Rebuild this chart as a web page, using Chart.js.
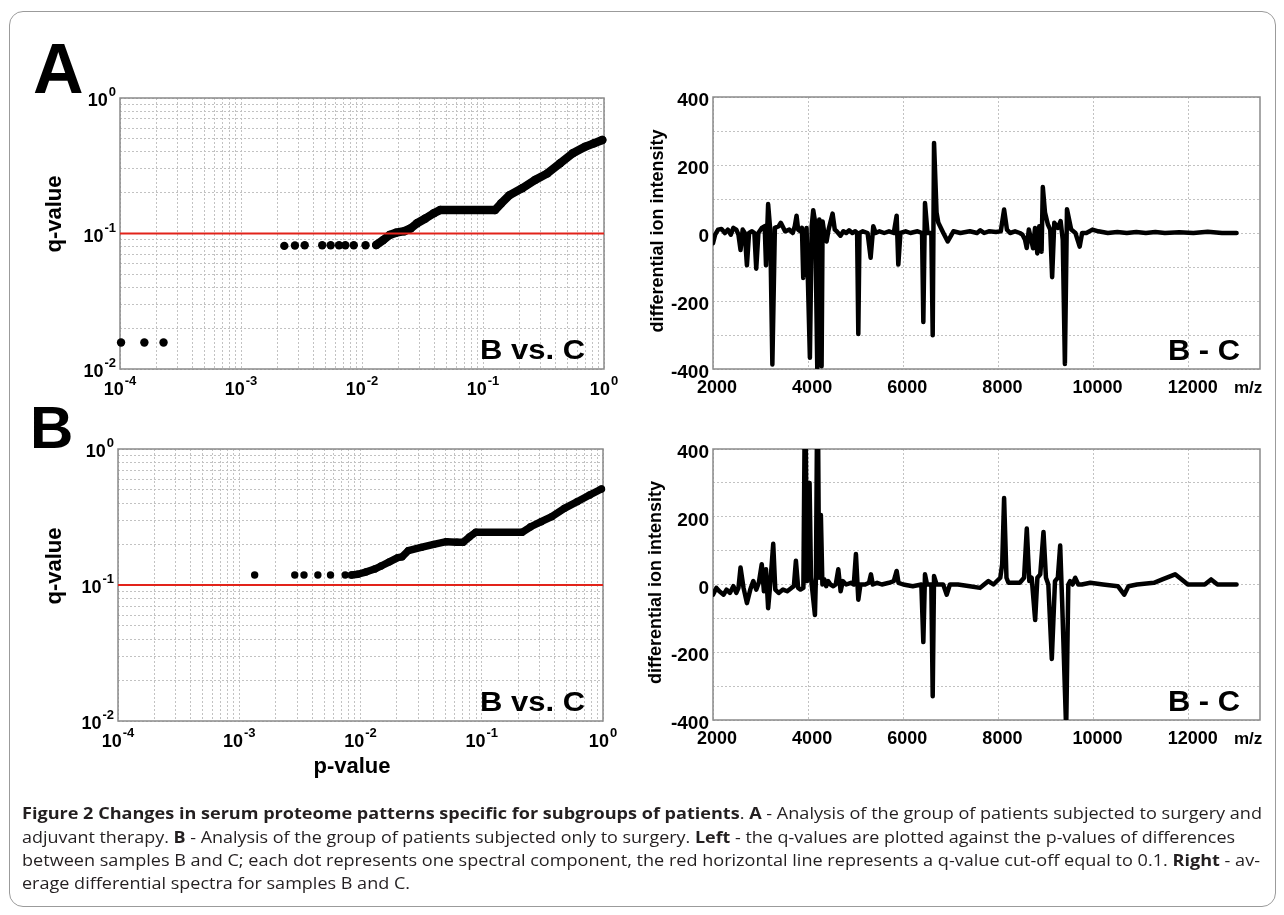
<!DOCTYPE html>
<html><head><meta charset="utf-8">
<script src="https://cdn.jsdelivr.net/npm/chart.js@4.4.1/dist/chart.umd.min.js"></script>
<style>
html,body{margin:0;padding:0;background:#fff;width:1284px;height:915px;overflow:hidden;}
#frame{position:absolute;left:9px;top:11px;width:1267px;height:896px;border:1.5px solid #9b9b9b;border-radius:14px;box-sizing:border-box;}
canvas{position:absolute;left:0;top:0;}
.cap{position:absolute;left:22px;white-space:nowrap;font-family:"Open Sans","Noto Sans",sans-serif;font-size:16.5px;line-height:1;color:#231f20;transform-origin:0 0;}
.cap b{font-weight:700;}
</style></head><body>
<div id="frame"></div>
<canvas id="cAL" width="1284" height="915"></canvas>
<canvas id="cAR" width="1284" height="915"></canvas>
<canvas id="cBL" width="1284" height="915"></canvas>
<canvas id="cBR" width="1284" height="915"></canvas>
<div class="cap" data-w="1240" style="top:805px"><b>Figure 2 Changes in serum proteome patterns specific for subgroups of patients</b>. <b>A</b> - Analysis of the group of patients subjected to surgery and</div>
<div class="cap" data-w="1213" style="top:829px">adjuvant therapy. <b>B</b> - Analysis of the group of patients subjected only to surgery. <b>Left</b> - the q-values are plotted against the p-values of differences</div>
<div class="cap" data-w="1238" style="top:852px">between samples B and C; each dot represents one spectral component, the red horizontal line represents a q-value cut-off equal to 0.1. <b>Right</b> - av-</div>
<div class="cap" data-w="388" style="top:875px">erage differential spectra for samples B and C.</div>
<script>
// ---------- tick labels ----------
const pTickExponents = [-4, -3, -2, -1, 0];
const qTickExponents = [-2, -1, 0];
const mzTicks = [2000, 4000, 6000, 8000, 10000, 12000];
const intensityTicks = [-400, -200, 0, 200, 400];
const intensityGrid = [-400, -300, -200, -100, 0, 100, 200, 300, 400];
const qCutoff = 0.1;
const cutoffP = [1e-4, 1];

// ---------- Panel A, left: q vs p ----------
const pIsoA = [1.02e-4, 1.59e-4, 2.29e-4, 2.28e-3, 2.79e-3, 3.36e-3, 4.69e-3, 5.51e-3, 6.46e-3, 7.28e-3, 8.55e-3, 1.07e-2];
const qIsoA = [0.0157, 0.0157, 0.0157, 0.081, 0.0815, 0.082, 0.082, 0.082, 0.082, 0.082, 0.082, 0.082];
const pRunA = [1.31e-2, 1.50e-2, 1.69e-2, 1.91e-2, 2.24e-2, 2.52e-2, 2.85e-2, 3.34e-2, 3.92e-2, 4.43e-2, 0.1256, 0.1416, 0.166, 0.211, 0.269, 0.341, 0.434, 0.552, 0.703, 0.825, 0.968];
const qRunA = [0.0822, 0.0896, 0.0975, 0.1014, 0.104, 0.109, 0.119, 0.129, 0.141, 0.149, 0.149, 0.167, 0.192, 0.216, 0.248, 0.278, 0.33, 0.391, 0.438, 0.463, 0.49];

// ---------- Panel B, left: q vs p ----------
const pIsoB = [1.34e-3, 2.87e-3, 3.42e-3, 4.45e-3, 5.66e-3, 7.48e-3];
const qIsoB = [0.1185, 0.1185, 0.1185, 0.1185, 0.1185, 0.1185];
const pRunB = [8.43e-3, 9.5e-3, 1.12e-2, 1.31e-2, 1.48e-2, 1.73e-2, 2.03e-2, 2.2e-2, 2.48e-2, 3.16e-2, 4.02e-2, 5.1e-2, 6.24e-2, 7.03e-2, 7.93e-2, 8.94e-2, 0.215, 0.253, 0.309, 0.378, 0.48, 0.611, 0.776, 0.97];
const qRunB = [0.1185, 0.12, 0.125, 0.131, 0.138, 0.148, 0.159, 0.161, 0.179, 0.189, 0.199, 0.208, 0.206, 0.206, 0.226, 0.244, 0.244, 0.268, 0.292, 0.318, 0.366, 0.41, 0.459, 0.508];

// ---------- Panel A, right: differential spectrum ----------
const mzA = [2000,2045,2107,2178,2250,2312,2374,2428,2490,2535,2579,2624,2668,2713,2758,2820,2870,2909,2954,3025,3087,3114,3159,3203,3248,3301,3381,3426,3515,3604,3676,3720,3757,3790,3840,3870,3897,3967,4037,4075,4107,4150,4192,4235,4283,4304,4340,4388,4430,4514,4560,4600,4680,4740,4800,4860,4930,4990,5030,5055,5080,5150,5250,5314,5370,5420,5500,5600,5700,5800,5861,5896,5940,6050,6150,6300,6395,6422,6457,6510,6590,6619,6647,6700,6738,6843,6935,7054,7200,7400,7550,7620,7700,7800,7950,8050,8120,8180,8246,8350,8450,8507,8560,8596,8640,8729,8770,8818,8860,8908,8934,8980,9041,9090,9130,9175,9250,9308,9353,9398,9442,9531,9620,9709,9760,9850,9977,10100,10300,10500,10700,10900,11100,11300,11500,11800,12100,12400,12700,13007];
const intensityA = [-30,-5,10,12,0,10,-5,15,10,-5,-50,10,0,-95,0,5,0,-105,0,15,20,-95,85,10,-387,15,20,30,5,10,0,20,51,10,5,15,-132,15,-367,20,67,30,-397,40,-392,34,0,-25,10,57,10,5,-8,5,0,8,0,5,0,-297,0,5,0,-73,20,0,5,0,5,0,51,-93,0,5,0,5,0,-262,88,0,0,-301,265,60,30,0,-25,5,0,5,0,8,0,5,3,5,69,10,0,5,0,-5,-20,-44,10,-45,15,-60,20,-55,135,60,25,10,-130,30,15,35,-20,-385,70,10,0,-40,0,0,10,5,0,3,0,3,0,3,0,2,0,4,0,0];

// ---------- Panel B, right: differential spectrum ----------
const mzB = [2000,2071,2134,2223,2285,2356,2428,2490,2535,2579,2642,2713,2784,2847,2909,2963,3025,3070,3114,3159,3203,3266,3310,3381,3471,3560,3649,3700,3743,3790,3840,3900,3925,3950,3975,4030,4060,4143,4165,4185,4210,4230,4268,4300,4340,4380,4420,4470,4530,4580,4634,4683,4730,4800,4900,4960,5005,5055,5100,5200,5280,5321,5360,5450,5550,5700,5800,5861,5900,6000,6200,6380,6422,6457,6500,6590,6619,6647,6700,6840,6914,6980,7150,7400,7615,7700,7790,7896,8040,8080,8120,8170,8211,8450,8540,8597,8650,8700,8773,8820,8880,8948,9000,9050,9123,9190,9250,9299,9340,9425,9470,9509,9560,9614,9680,9754,9932,10200,10512,10645,10734,10913,11270,11448,11715,11893,11982,12339,12472,12606,13007];
const intensityB = [-30,-10,-20,-30,-15,-25,-5,-25,-10,50,-10,-55,-15,10,-15,5,60,-20,45,-70,0,120,-15,-25,-15,-20,-10,-5,70,-10,-15,-10,430,430,10,300,20,-90,30,430,430,20,205,0,15,-5,10,0,-5,0,45,-20,10,0,5,0,90,-45,0,0,5,30,0,5,0,5,10,40,5,0,-5,0,-170,30,0,0,-330,25,0,0,-30,0,0,-5,-10,0,10,0,20,60,255,20,5,5,20,165,10,20,-105,20,30,155,20,0,-220,10,20,115,-50,-430,0,10,0,20,0,0,5,0,-5,-30,-5,0,5,15,30,10,0,0,15,0,0];

// ---------- drawing helpers ----------
const FONT = '"Liberation Sans", Arial, Helvetica, sans-serif';
const BF = s => `bold ${s}px ${FONT}`;
const GRID = '#c2c2c2';

function gridFromExponents(exps) {
  const out = [];
  for (let i = 0; i < exps.length - 1; i++)
    for (let m = 1; m < 10; m++) out.push(m * Math.pow(10, exps[i]));
  out.push(Math.pow(10, exps[exps.length - 1]));
  return out;
}
function axis(type, min, max, gridVals) {
  return { type, min, max,
    afterBuildTicks: s => { s.ticks = gridVals.map(v => ({ value: v })); },
    ticks: { display: false },
    grid: { color: GRID, lineWidth: 1, drawTicks: false },
    border: { display: false, dash: [2, 2] } };
}
function supLabel(ctx, exp, x, y, align) {
  ctx.font = BF(18); const w1 = ctx.measureText('10').width;
  ctx.font = BF(13); const w2 = ctx.measureText(exp).width;
  const x0 = align === 'center' ? x - (w1 + w2 + 1) / 2 : x - (w1 + w2 + 1);
  ctx.textAlign = 'left'; ctx.textBaseline = 'alphabetic';
  ctx.font = BF(18); ctx.fillText('10', x0, y);
  ctx.font = BF(13); ctx.fillText(exp, x0 + w1 + 1, y - 10);
}
function fitText(ctx, text, x, y, width, font) {
  ctx.font = font; const w = ctx.measureText(text).width;
  ctx.save(); ctx.translate(x, y); ctx.scale(width / w, 1);
  ctx.textAlign = 'left'; ctx.fillText(text, 0, 0); ctx.restore();
}
function vText(ctx, text, x, y, font) {
  ctx.save(); ctx.translate(x, y); ctx.rotate(-Math.PI / 2);
  ctx.font = font; ctx.textAlign = 'center'; ctx.textBaseline = 'alphabetic';
  ctx.fillText(text, 0, 0); ctx.restore();
}
const pts = (xs, ys) => xs.map((x, i) => ({ x, y: ys[i] }));

function makeChart(id, area, scales, datasets, extras) {
  return new Chart(document.getElementById(id), {
    type: 'scatter',
    data: { datasets },
    options: {
      responsive: false, animation: false, events: [], devicePixelRatio: 1,
      layout: { padding: { left: area.L, top: area.T, right: 1284 - area.R, bottom: 915 - area.B } },
      plugins: { legend: { display: false }, tooltip: { enabled: false } },
      scales
    },
    plugins: [{
      id: 'frameAndText',
      beforeDatasetsDraw(c) {
        const a = c.chartArea, ctx = c.ctx;
        ctx.save(); ctx.strokeStyle = '#8a8a8a'; ctx.lineWidth = 1.5;
        ctx.strokeRect(a.left, a.top, a.right - a.left, a.bottom - a.top); ctx.restore();
      },
      afterDraw(c) { const ctx = c.ctx; ctx.save(); ctx.fillStyle = '#000'; extras(c, ctx); ctx.restore(); }
    }]
  });
}

function leftChart(id, area, pIso, qIso, pRun, qRun, r, letter, letterPx, letterX, letterBase, qTitleY, showP) {
  const datasets = [
    { data: pts(cutoffP, [qCutoff, qCutoff]), showLine: true, borderColor: '#e2231a', borderWidth: 2, pointRadius: 0, clip: false },
    { data: pts(pIso, qIso), showLine: false, pointRadius: r, backgroundColor: '#000', borderWidth: 0, clip: false },
    { data: pts(pRun, qRun), showLine: true, borderColor: '#000', borderWidth: 2 * r, borderCapStyle: 'round', borderJoinStyle: 'round',
      pointRadius: r, backgroundColor: '#000', pointBorderWidth: 0, clip: false }
  ];
  const scales = {
    x: axis('logarithmic', 1e-4, 1, gridFromExponents(pTickExponents)),
    y: axis('logarithmic', 1e-2, 1, gridFromExponents(qTickExponents))
  };
  makeChart(id, area, scales, datasets, (c, ctx) => {
    const a = c.chartArea, xs = c.scales.x, ys = c.scales.y;
    pTickExponents.forEach(e => supLabel(ctx, String(e), xs.getPixelForValue(Math.pow(10, e)), a.bottom + 26, 'center'));
    qTickExponents.forEach(e => supLabel(ctx, String(e), a.left - 4, ys.getPixelForValue(Math.pow(10, e)) + 8, 'right'));
    vText(ctx, 'q-value', 61, qTitleY, BF(22));
    if (showP) { ctx.font = BF(22); ctx.textAlign = 'center'; ctx.fillText('p-value', 352, 773); }
    fitText(ctx, 'B vs. C', 480, a.bottom - 10, 105, BF(28));
    ctx.font = BF(letterPx); ctx.textAlign = 'left'; ctx.fillText(letter, letterX, letterBase);
  });
}

function rightChart(id, area, mz, inten, titleX) {
  const datasets = [
    { data: pts(mz, inten), showLine: true, borderColor: '#000', borderWidth: 4.5, pointRadius: 0,
      borderJoinStyle: 'round', borderCapStyle: 'round', tension: 0 }
  ];
  const scales = {
    x: axis('linear', 2000, 13500, mzTicks),
    y: axis('linear', -400, 400, intensityGrid)
  };
  makeChart(id, area, scales, datasets, (c, ctx) => {
    const a = c.chartArea, xs = c.scales.x, ys = c.scales.y;
    ctx.font = BF(19); ctx.textAlign = 'right';
    intensityTicks.forEach(v => ctx.fillText(String(v), a.left - 4, ys.getPixelForValue(v) + 9));
    ctx.font = BF(18); ctx.textAlign = 'center';
    mzTicks.forEach(v => ctx.fillText(String(v), xs.getPixelForValue(v) + 4, a.bottom + 24));
    ctx.font = BF(17); ctx.textAlign = 'left'; ctx.fillText('m/z', 1234, a.bottom + 24);
    vText(ctx, 'differential ion intensity', titleX, (a.top + a.bottom) / 2 - 2, BF(18));
    fitText(ctx, 'B - C', 1168, a.bottom - 9, 72, BF(29));
  });
}

leftChart('cAL', { L: 120, T: 98, R: 604, B: 369 }, pIsoA, qIsoA, pRunA, qRunA, 4.2, 'A', 70, 33, 93, 214, false);
leftChart('cBL', { L: 118, T: 449, R: 603, B: 721 }, pIsoB, qIsoB, pRunB, qRunB, 3.7, 'B', 60, 30, 448, 566, true);
rightChart('cAR', { L: 713, T: 97, R: 1260, B: 369 }, mzA, intensityA, 663);
rightChart('cBR', { L: 713, T: 449, R: 1260, B: 720 }, mzB, intensityB, 661);

function fitCaption() {
  document.querySelectorAll('.cap').forEach(el => {
    el.style.transform = 'none';
    const w = el.getBoundingClientRect().width;
    el.style.transform = `scaleX(${(+el.dataset.w) / w})`;
  });
}
fitCaption();
if (document.fonts && document.fonts.ready) document.fonts.ready.then(fitCaption);
</script>
</body></html>
